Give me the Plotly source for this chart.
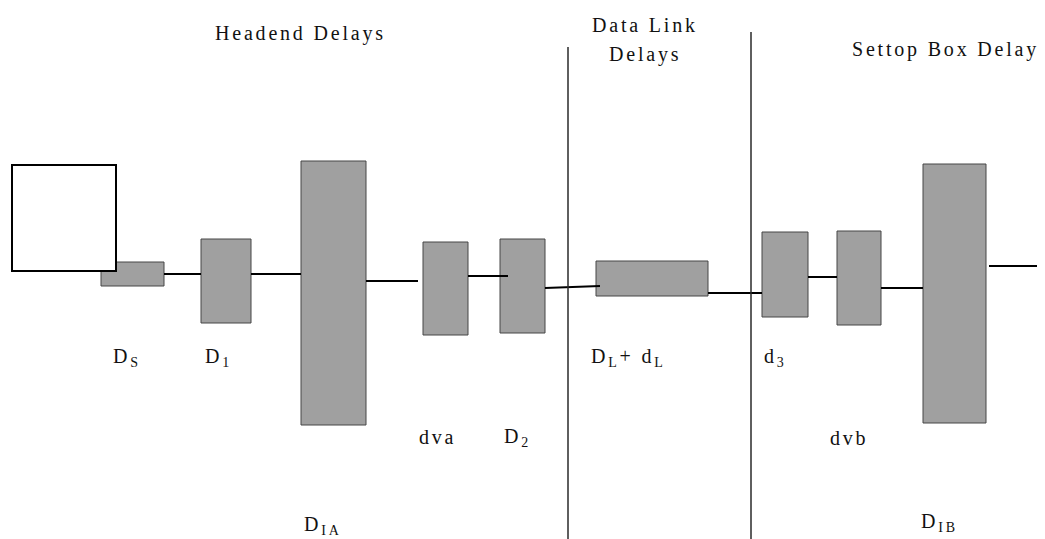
import plotly.graph_objects as go

# ---- data: delay blocks (diagram coordinates, y grows downward) ----
box_names = ["D_S", "D_1", "D_IA", "dva", "D_2", "D_L+d_L", "d_3", "dvb", "D_IB"]
box_left = [101, 201, 301, 423, 500, 596, 762, 837, 923]
box_right = [164, 251, 366, 468, 545, 708, 808, 881, 986]
box_top = [262, 239, 161, 242, 239, 261, 232, 231, 164]
box_bottom = [286, 323, 425, 335, 333, 296, 317, 325, 423]

# source (white) box
src_left, src_right, src_top, src_bottom = 12, 116, 165, 271

# connecting links
link_x0 = [164, 251, 366, 468, 545, 708, 808, 881, 989]
link_y0 = [274, 274, 281, 276, 288, 293, 277, 288, 266]
link_x1 = [201, 301, 418, 508, 600, 762, 837, 923, 1045]
link_y1 = [274, 274, 281, 276, 286, 293, 277, 288, 266]

# section dividers
divider_x = [568, 751]
divider_top = [47, 32]
divider_bottom = [539, 539]

# section headings
heading_text = ["Headend Delays", "Data Link", "Delays", "Settop Box Delays"]
heading_x = [300, 645, 645, 850]
heading_y = [33, 25, 54, 49]
heading_anchor = ["center", "center", "center", "left"]

# block labels
label_text = ["D<sub>S</sub>", "D<sub>1</sub>", "D<sub>IA</sub>", "dva", "D<sub>2</sub>",
              "D<sub>L</sub>+ d<sub>L</sub>", "d<sub>3</sub>", "dvb", "D<sub>IB</sub>"]
label_x = [111, 203, 302, 417, 502, 589, 762, 828, 919]
label_y = [357, 357, 525, 437, 437, 357, 357, 438, 522]

FONT = "Liberation Serif, Times New Roman, serif"
SP = "letter-spacing:2.8px"

# the page body adds an 8px offset; size the figure so diagram coords map to window pixels
OFF = 8
W, H = 1045, 539

fig = go.Figure()
shapes = []

for i in range(len(box_names)):
    shapes.append(dict(type="rect", xref="x", yref="y",
                       x0=box_left[i], x1=box_right[i], y0=box_top[i], y1=box_bottom[i],
                       fillcolor="#a0a0a0", line=dict(color="#474747", width=1)))

for i in range(len(link_x0)):
    shapes.append(dict(type="line", xref="x", yref="y",
                       x0=link_x0[i], y0=link_y0[i], x1=link_x1[i], y1=link_y1[i],
                       line=dict(color="black", width=2)))

for i in range(len(divider_x)):
    shapes.append(dict(type="line", xref="x", yref="y",
                       x0=divider_x[i], x1=divider_x[i], y0=divider_top[i], y1=divider_bottom[i],
                       line=dict(color="#2a2a2a", width=1.5)))

shapes.append(dict(type="rect", xref="x", yref="y",
                   x0=src_left, x1=src_right, y0=src_top, y1=src_bottom,
                   fillcolor="white", line=dict(color="black", width=2)))

annotations = []
for i in range(len(heading_text)):
    annotations.append(dict(x=heading_x[i], y=heading_y[i], xref="x", yref="y",
                            text=f'<span style="{SP}">{heading_text[i]}</span>',
                            showarrow=False, xanchor=heading_anchor[i], yanchor="middle",
                            font=dict(family=FONT, size=20, color="#111")))
for i in range(len(label_text)):
    annotations.append(dict(x=label_x[i], y=label_y[i], xref="x", yref="y",
                            text=f'<span style="{SP}">{label_text[i]}</span>',
                            showarrow=False, xanchor="left", yanchor="middle",
                            font=dict(family=FONT, size=20, color="#111")))

fig.update_layout(
    width=W - OFF, height=H - OFF,
    margin=dict(l=0, r=0, t=0, b=0),
    paper_bgcolor="white", plot_bgcolor="white",
    xaxis=dict(range=[OFF, W], visible=False, fixedrange=True),
    yaxis=dict(range=[H, OFF], visible=False, fixedrange=True),
    shapes=shapes, annotations=annotations, showlegend=False,
)

fig.write_html("out.html")
